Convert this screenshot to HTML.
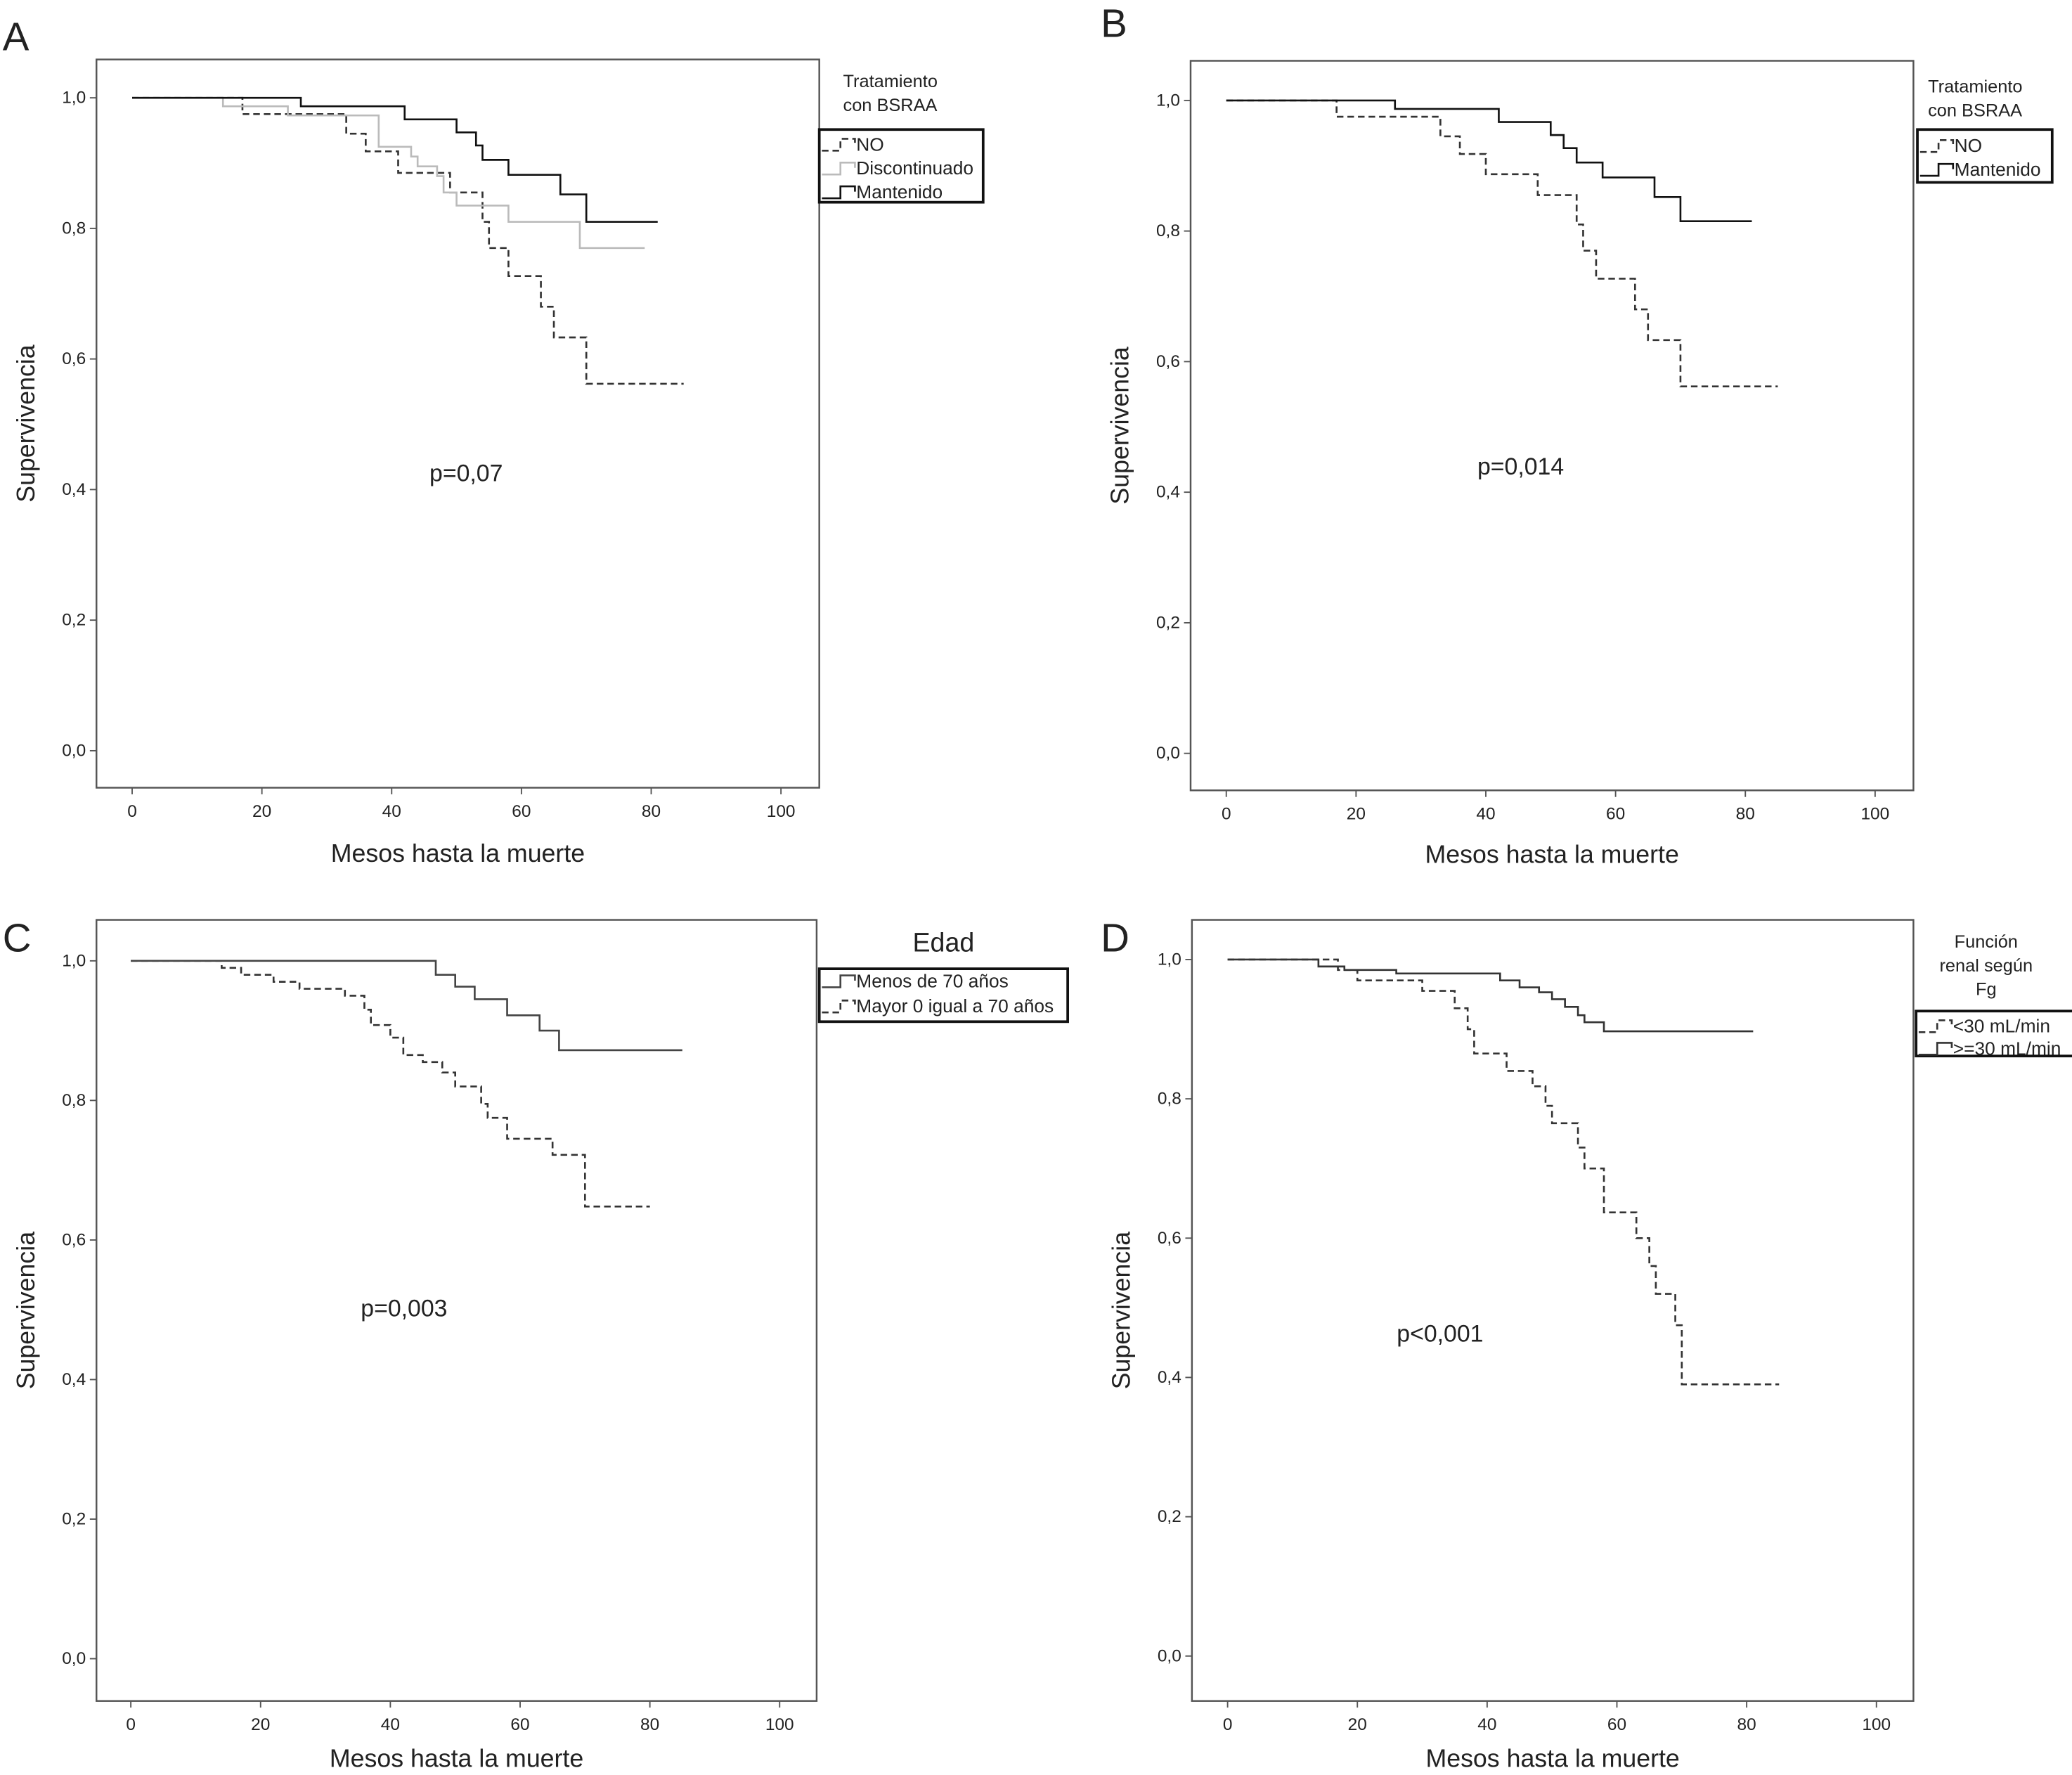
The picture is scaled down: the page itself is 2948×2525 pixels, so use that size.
<!DOCTYPE html>
<html><head><meta charset="utf-8"><style>
html,body{margin:0;padding:0;background:#fff}
svg{display:block}
text{font-family:"Liberation Sans",sans-serif;fill:#222}
</style></head><body>
<svg id="fig" width="2948" height="2525" viewBox="0 0 1568 1343" xmlns="http://www.w3.org/2000/svg"></svg>
<script>
// Panel A data
const aManT=[0,26,42,50,53,54,58,66,70,81];
const aManS=[1.0,0.987,0.967,0.947,0.927,0.905,0.882,0.852,0.81,0.81];
const aDisT=[0,14,24,38,43,44,47,48,50,58,69,79];
const aDisS=[1.0,0.987,0.973,0.925,0.91,0.895,0.88,0.855,0.835,0.81,0.77,0.77];
const aNoT=[0,17,33,36,41,49,54,55,58,63,65,70,85];
const aNoS=[1.0,0.975,0.945,0.918,0.885,0.855,0.81,0.77,0.727,0.68,0.633,0.562,0.562];
// Panel B data
const bManT=[0,26,42,50,52,54,58,66,70,81];
const bManS=[1.0,0.987,0.967,0.947,0.927,0.905,0.882,0.852,0.815,0.815];
const bNoT=[0,17,33,36,40,48,54,55,57,63,65,70,85];
const bNoS=[1.0,0.975,0.945,0.918,0.887,0.855,0.81,0.77,0.727,0.68,0.633,0.562,0.562];
// Panel C data
const cYoungT=[0,47,50,53,58,63,66,85];
const cYoungS=[1.0,0.98,0.963,0.945,0.922,0.9,0.872,0.872];
const cOldT=[0,14,17,22,26,33,36,37,40,42,45,48,50,54,55,58,65,70,80];
const cOldS=[1.0,0.99,0.98,0.97,0.96,0.95,0.93,0.908,0.89,0.865,0.855,0.84,0.82,0.795,0.775,0.745,0.722,0.648,0.648];
// Panel D data
const dHighT=[0,14,18,26,42,45,48,50,52,54,55,58,81];
const dHighS=[1.0,0.99,0.985,0.98,0.97,0.96,0.953,0.943,0.932,0.92,0.91,0.897,0.897];
const dLowT=[0,17,20,30,35,37,38,43,47,49,50,54,55,58,63,65,66,69,70,85];
const dLowS=[1.0,0.985,0.97,0.955,0.93,0.9,0.865,0.84,0.818,0.79,0.765,0.73,0.7,0.637,0.6,0.56,0.52,0.475,0.39,0.39];
const xTicks=[0,20,40,60,80,100];
const yTicks=[0,0.2,0.4,0.6,0.8,1.0];
const yTickLabels=["0,0","0,2","0,4","0,6","0,8","1,0"];

const NS="http://www.w3.org/2000/svg";
const svg=document.getElementById('fig');
function mk(tag,attrs,parent){const e=document.createElementNS(NS,tag);for(const k in attrs)e.setAttribute(k,attrs[k]);(parent||svg).appendChild(e);return e;}
function txt(s,attrs,parent){const e=mk('text',attrs,parent);e.textContent=s;return e;}

const panels=[
 {letter:'A',lx:2,ly:38,box:[73,45,620,596],xty:652,x0:100,xs:4.91,y0:568,ys:494,p:'p=0,07',px:325,py:364,
  series:[{t:aNoT,s:aNoS,c:'#333',d:'5,3',n:'no'},{t:aDisT,s:aDisS,c:'#bbb',d:'',n:'discontinuado'},{t:aManT,s:aManS,c:'#111',d:'',n:'mantenido'}],
  title:['Tratamiento','con BSRAA'],tx:638,ty:66,tanchor:'start',tsize:13.5,
  lbox:[620,98,744,153],rows:[['NO','#333','5,3'],['Discontinuado','#bbb',''],['Mantenido','#111','']],r0:109,rd:18,lfs:14},
 {letter:'B',lx:833,ly:28,box:[901,46,1448,598],xty:653,x0:928,xs:4.91,y0:570,ys:494,p:'p=0,014',px:1118,py:359,
  series:[{t:bNoT,s:bNoS,c:'#333',d:'5,3',n:'no'},{t:bManT,s:bManS,c:'#111',d:'',n:'mantenido'}],
  title:['Tratamiento','con BSRAA'],tx:1459,ty:70,tanchor:'start',tsize:13.5,
  lbox:[1451,98,1553,138],rows:[['NO','#333','5,3'],['Mantenido','#111','']],r0:110,rd:18,lfs:14},
 {letter:'C',lx:2,ly:720,box:[73,696,618,1287],xty:1337,x0:99,xs:4.91,y0:1255,ys:528,p:'p=0,003',px:273,py:996,
  series:[{t:cOldT,s:cOldS,c:'#333',d:'5,3',n:'mayor-70'},{t:cYoungT,s:cYoungS,c:'#444',d:'',n:'menos-70'}],
  title:['Edad'],tx:714,ty:720,tanchor:'middle',tsize:20,
  lbox:[620,733,808,773],rows:[['Menos de 70 años','#444',''],['Mayor 0 igual a 70 años','#333','5,3']],r0:742,rd:19,lfs:14},
 {letter:'D',lx:833,ly:720,box:[902,696,1448,1287],xty:1337,x0:929,xs:4.91,y0:1253,ys:527,p:'p<0,001',px:1057,py:1015,
  series:[{t:dLowT,s:dLowS,c:'#333',d:'5,3',n:'lt30'},{t:dHighT,s:dHighS,c:'#333',d:'',n:'ge30'}],
  title:['Función','renal según','Fg'],tx:1503,ty:717,tanchor:'middle',tsize:13.5,
  lbox:[1450,765,1570,799],rows:[['<30 mL/min','#333','5,3'],['>=30 mL/min','#333','']],r0:776,rd:17,lfs:14}
];

panels.forEach((P,pi)=>{
 const g=mk('g',{});
 
 
 const X=m=>P.x0+m*P.xs, Y=s=>P.y0-s*P.ys;
 const lt=txt(P.letter,{x:P.lx,y:P.ly,'font-size':30},g);
 
 
 const [bx1,by1,bx2,by2]=P.box;
 const fr=mk('rect',{x:bx1,y:by1,width:bx2-bx1,height:by2-by1,fill:'none',stroke:'#555','stroke-width':1.3},g);
 
 
 xTicks.forEach(v=>{
  const l=mk('line',{x1:X(v),x2:X(v),y1:by2,y2:by2+5,stroke:'#555','stroke-width':1},g);
  
  
  const t=txt(String(v),{x:X(v),y:by2+22,'font-size':13,'text-anchor':'middle'},g);
  
  
 });
 yTicks.forEach((v,i)=>{
  const l=mk('line',{x1:bx1-5,x2:bx1,y1:Y(v),y2:Y(v),stroke:'#555','stroke-width':1},g);
  
  
  const t=txt(yTickLabels[i],{x:bx1-8,y:Y(v)+4,'font-size':13,'text-anchor':'end'},g);
  
  
 });
 const xt=txt('Mesos hasta la muerte',{x:(bx1+bx2)/2,y:P.xty,'font-size':19,'text-anchor':'middle'},g);
 
 
 const cy=(by1+by2)/2;
 const yt=txt('Supervivencia',{x:0,y:0,'font-size':19,'text-anchor':'middle',transform:`translate(${bx1-47},${cy}) rotate(-90)`},g);
 
 
 const pt=txt(P.p,{x:P.px,y:P.py,'font-size':18},g);
 
 
 P.series.forEach(S=>{
  let d=`M${X(S.t[0])},${Y(S.s[0])}`;
  for(let i=1;i<S.t.length;i++){d+=` H${X(S.t[i])} V${Y(S.s[i])}`;}
  const p=mk('path',{d:d,fill:'none',stroke:S.c,'stroke-width':1.4,'stroke-dasharray':S.d||'none'},g);
  
  
 });
 P.title.forEach((s,i)=>{
  const t=txt(s,{x:P.tx,y:P.ty+i*18,'font-size':P.tsize,'text-anchor':P.tanchor},g);
  
  
 });
 const [lx1,ly1,lx2,ly2]=P.lbox;
 const lb=mk('rect',{x:lx1,y:ly1,width:lx2-lx1,height:ly2-ly1,fill:'none',stroke:'#111','stroke-width':2},g);
 
 
 P.rows.forEach((r,i)=>{
  const y=P.r0+i*P.rd;
  const ic=mk('path',{d:`M${lx1+2},${y+5} H${lx1+16} V${y-4} H${lx1+27} V${y}`,fill:'none',stroke:r[1],'stroke-width':1.4,'stroke-dasharray':r[2]||'none'},g);
  
  
  const t=txt(r[0],{x:lx1+28,y:y+5,'font-size':P.lfs},g);
  
  
 });
});
</script>
</body></html>
